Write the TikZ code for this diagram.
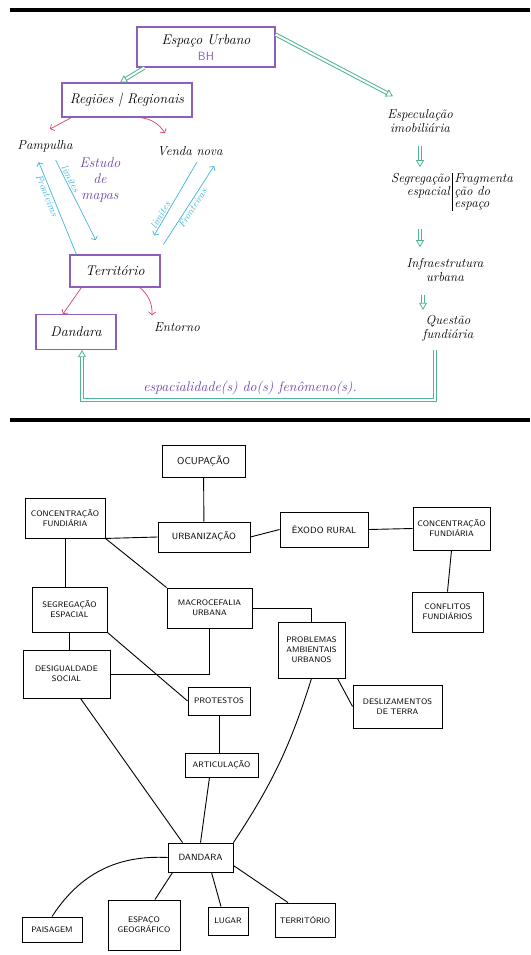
\documentclass[tikz,border=0pt]{standalone}
\usetikzlibrary{arrows.meta}
\definecolor{lila}{RGB}{140,95,185}
\definecolor{lilatexto}{RGB}{105,65,175}
\definecolor{verdeagua}{RGB}{80,180,150}
\definecolor{rojo}{RGB}{215,65,95}
\definecolor{celeste}{RGB}{60,180,220}

\begin{document}
\begin{tikzpicture}[
  x=1pt, y=-1pt,
  caja/.style={draw=lila, line width=1.1pt, align=center, inner sep=2pt, font=\itshape\fontsize{14}{15}\selectfont},
  texto/.style={align=center, inner sep=1pt, font=\itshape\fontsize{13}{14}\selectfont},
  doble/.style={draw=verdeagua, double=white, double distance=2pt, line width=1pt, -{Triangle[open, length=7pt, width=8pt, line width=0.8pt]}},
  roja/.style={draw=rojo, line width=0.7pt, -{Straight Barb[length=3pt, width=7pt]}},
  celesteflecha/.style={draw=celeste, line width=0.7pt, -{Straight Barb[length=3pt, width=7pt]}},
  etiqueta/.style={text=celeste, font=\itshape\fontsize{10}{11}\selectfont, sloped, inner sep=1pt},
  negra/.style={draw, line width=0.9pt, align=center, inner sep=2pt, font=\sffamily\fontsize{8}{10}\selectfont},
  linea/.style={line width=0.9pt}
]
  \useasboundingbox (0,0) rectangle (530,955);

  % Líneas separadoras
  \draw[line width=4pt] (10,10) -- (530,10);
  \draw[line width=4pt] (10,420) -- (530,420);

  % Mapa superior: cajas y textos
  \node[caja, minimum width=138, minimum height=40, text depth=14pt] (espurb) at (206,47) {Espaço Urbano};
  \node[text=lila, inner sep=0pt, font=\sffamily\fontsize{12}{12}\selectfont] (bh) at (206,56) {BH};
  \node[caja, minimum width=130, minimum height=34] (regioes) at (127,100) {Regiões | Regionais};
  \node[texto] (pamp) at (45,146) {Pampulha};
  \node[texto] (venda) at (190,151) {Venda nova};
  \node[texto, text=lilatexto, font=\itshape\fontsize{14}{16}\selectfont] (estudo) at (100,180) {Estudo\\de\\mapas};
  \node[caja, minimum width=90, minimum height=32] (terr) at (115,271) {Território};
  \node[caja, minimum width=80, minimum height=35] (dandA) at (76,332) {Dandara};
  \node[texto] (entorno) at (177,327) {Entorno};
  \node[texto] (especul) at (420,121) {Especulação\\imobiliária};
  \node[texto, inner sep=0pt] (segr) at (452,192) {\renewcommand{\arraystretch}{0.85}\begin{tabular}{@{}r@{\,}|@{\,}l@{}}Segregação & Fragmenta\\ espacial & ção do\\ & espaço\end{tabular}};
  \node[texto] (infra) at (445,270) {Infraestrutura\\urbana};
  \node[texto] (questao) at (448,328) {Questão\\fundiária};
  \coordinate (pie) at (250,400);
  \node[texto, text=lilatexto, font=\itshape\fontsize{14}{15}\selectfont] (espac) at (250,388) {espacialidade(s) do(s) fenômeno(s).};

  % Puntos auxiliares de las flechas verdes
  \coordinate (e1) at ([yshift=-12pt]especul.south);
  \coordinate (e2) at (especul.south |- segr.north);
  \coordinate (s1) at ([xshift=-32pt, yshift=-18pt]segr.south);
  \coordinate (s2) at (s1 |- infra.north);
  \coordinate (i1) at ([xshift=-22pt, yshift=-12pt]infra.south);
  \coordinate (i2) at (i1 |- questao.north);
  \coordinate (q1) at ([xshift=-13pt, yshift=-8pt]questao.south);

  % Flechas verdes dobles
  \draw[doble] ([xshift=8pt]espurb.south west) -- ([xshift=-7pt]regioes.north);
  \draw[doble] ([yshift=-8pt]espurb.north east) -- ([xshift=-27pt, yshift=12pt]especul.north);
  \draw[doble] (e1) -- ([yshift=6pt]e2);
  \draw[doble] (s1) -- ([yshift=10pt]s2);
  \draw[doble] (i1) -- ([yshift=4pt]i2);
  \draw[doble] (q1) |- (pie) -| ([xshift=6pt]dandA.south);

  % Flechas rojas
  \draw[roja] ([xshift=10pt]regioes.south west) -- ([xshift=5pt, yshift=10pt]pamp.north);
  \draw[roja] ([xshift=13pt]regioes.south) to[bend left=25] ([xshift=-25pt, yshift=12pt]venda.north);
  \draw[roja] ([xshift=12pt]terr.south west) -- ([xshift=-13pt]dandA.north);
  \draw[roja] ([xshift=25pt]terr.south) to[bend left=25] ([xshift=-25pt, yshift=6pt]entorno.north);

  % Flechas celestes con límites y fronteras
  \draw[celesteflecha, shorten <=8pt, shorten >=16pt] ([xshift=7pt]pamp.south) -- ([xshift=-12pt]terr.north) node[etiqueta, pos=0.28, above] {limites};
  \draw[celesteflecha, shorten >=10pt] ([xshift=7pt]terr.north west) -- ([xshift=-10pt]pamp.south) node[etiqueta, pos=0.6, below] {Fronteiras};
  \draw[celesteflecha, shorten <=6pt, shorten >=22pt] ([xshift=10pt]venda.south) -- ([xshift=28pt]terr.north) node[etiqueta, pos=0.62, above] {limites};
  \draw[celesteflecha, shorten <=12pt, shorten >=11pt] ([xshift=42pt]terr.north) -- ([xshift=30pt]venda.south) node[etiqueta, pos=0.5, below] {Fronteiras};

  % Mapa inferior: cajas
  \node[negra, minimum width=83, minimum height=32, font=\sffamily\fontsize{10}{12}\selectfont] (ocup) at (203.5,461) {OCUPAÇÃO};
  \node[negra, minimum width=80, minimum height=40] (concA) at (65,518) {CONCENTRAÇÃO\\FUNDIÁRIA};
  \node[negra, minimum width=92, minimum height=30, font=\sffamily\fontsize{9}{11}\selectfont] (urb) at (204,537) {URBANIZAÇÃO};
  \node[negra, minimum width=88, minimum height=35, font=\sffamily\fontsize{9}{11}\selectfont] (exodo) at (324,529.5) {ÊXODO RURAL};
  \node[negra, minimum width=77, minimum height=43] (concB) at (451.5,528.5) {CONCENTRAÇÃO\\FUNDIÁRIA};
  \node[negra, minimum width=75, minimum height=45] (segreg) at (69.5,609.5) {SEGREGAÇÃO\\ESPACIAL};
  \node[negra, minimum width=85, minimum height=40] (macro) at (209.5,608) {MACROCEFALIA\\URBANA};
  \node[negra, minimum width=67, minimum height=56] (probl) at (311.5,650) {PROBLEMAS\\AMBIENTAIS\\URBANOS};
  \node[negra, minimum width=71, minimum height=40] (confl) at (447.5,612) {CONFLITOS\\FUNDIÁRIOS};
  \node[negra, minimum width=87, minimum height=48] (desig) at (66.5,674) {DESIGUALDADE\\SOCIAL};
  \node[negra, minimum width=62, minimum height=28] (protest) at (219,701) {PROTESTOS};
  \node[negra, minimum width=89, minimum height=43] (desliz) at (397.5,706.5) {DESLIZAMENTOS\\DE TERRA};
  \node[negra, minimum width=73, minimum height=24] (artic) at (221.5,765) {ARTICULAÇÃO};
  \node[negra, minimum width=65, minimum height=29, font=\sffamily\fontsize{9}{11}\selectfont] (dand) at (200.5,857.5) {DANDARA};
  \node[negra, minimum width=60, minimum height=25] (paisag) at (52,929.5) {PAISAGEM};
  \node[negra, minimum width=72, minimum height=50] (espgeo) at (144,925) {ESPAÇO\\GEOGRÁFICO};
  \node[negra, minimum width=40, minimum height=28] (lugar) at (228,921) {LUGAR};
  \node[negra, minimum width=60, minimum height=34] (territ) at (305,920) {TERRITÓRIO};

  % Mapa inferior: conexiones
  \draw[linea] (ocup) -- (urb);
  \draw[linea] (concA.south east) -- (urb.west);
  \draw[linea] (urb.east) -- (exodo.west);
  \draw[linea] (exodo.east) -- (concB.west);
  \draw[linea] (concA.south) -- (concA.south |- segreg.north);
  \draw[linea] (concA.south east) -- (macro.north west);
  \draw[linea] (concB.south) -- (confl.north);
  \draw[linea] (macro.east) -- (probl.north |- macro.east) -- (probl.north);
  \draw[linea] (segreg.south) -- (segreg.south |- desig.north);
  \draw[linea] (macro.south) |- (desig.east);
  \draw[linea] (segreg.south east) -- (protest.west);
  \draw[linea] ([xshift=-8pt]probl.south east) -- (desliz.west);
  \draw[linea] (protest.south) -- (protest.south |- artic.north);
  \draw[linea] ([xshift=14pt]desig.south) -- ([xshift=15pt]dand.north west);
  \draw[linea] ([xshift=-12pt]artic.south) -- (dand.north);
  \draw[linea] (probl.south) to[bend left=8] (dand.north east);
  \draw[linea] (dand.west) to[bend right=30] (paisag.north);
  \draw[linea] ([xshift=5pt]dand.south west) -- ([xshift=11pt]espgeo.north);
  \draw[linea] ([xshift=11pt]dand.south) -- ([xshift=-7pt]lugar.north);
  \draw[linea] ([yshift=-8pt]dand.east) -- ([xshift=-17pt]territ.north);

\end{tikzpicture}
\end{document}
